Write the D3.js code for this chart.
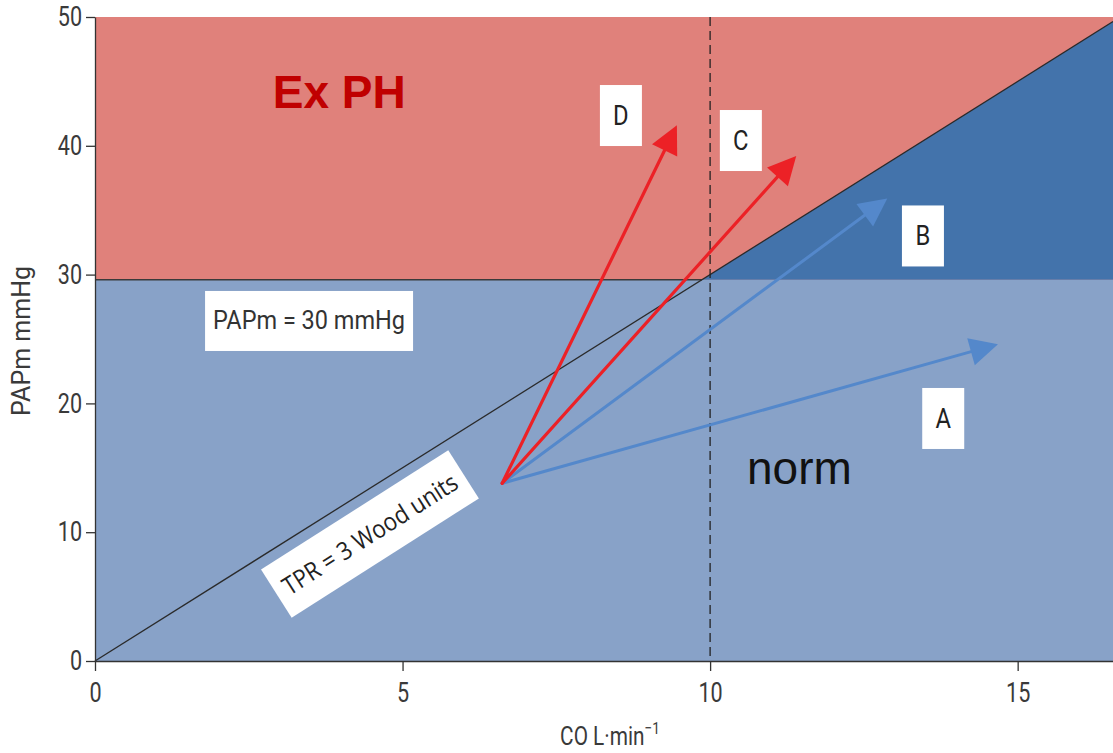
<!DOCTYPE html>
<html>
<head>
<meta charset="utf-8">
<script src="https://cdn.jsdelivr.net/npm/d3@7"></script>
<style>
  html, body { margin: 0; padding: 0; background: #ffffff; }
  svg { display: block; }
</style>
</head>
<body>
<svg id="chart" width="1113" height="753"></svg>
<script>
// ---------------- data ----------------
const xTicks = [0, 5, 10, 15];
const yTicks = [0, 10, 20, 30, 40, 50];
const xMax = 16.55;            // visible CO range (right edge cut)
const yMax = 50;
const thresholdPAPm = 29.6;    // PAPm = 30 mmHg line
const tprSlope = 3;            // TPR = 3 Wood units
const coReference = 10;        // dashed vertical line
const arrowOrigin = [6.62, 13.8];
const arrowNames = ["A", "B", "C", "D"];
const arrowEndCO = [14.68, 12.88, 11.4, 9.46];
const arrowEndPAPm = [24.6, 35.9, 39.2, 41.6];
const arrowGroup = ["norm", "norm", "ph", "ph"];
const labelCO = [13.79, 13.46, 10.5, 8.55];
const labelPAPm = [18.83, 33.0, 40.41, 42.35];
const regionTexts = ["Ex PH", "norm"];
const regionTextCO = [2.89, 10.6];
const regionTextPAPm = [42.93, 13.74];
const thresholdLabel = "PAPm = 30 mmHg";
const thresholdLabelPos = [3.48, 26.4];
const tprLabel = "TPR = 3 Wood units";
const tprLabelPos = [4.47, 9.86];
const xTitle = "CO L·min";
const xTitleSup = "−1";
const yTitle = "PAPm mmHg";

(function () {
// ---------------- layout ----------------
const svg = d3.select("#chart");
const mLeft = 95, mTop = 17, mRight = 1113, mBottom = 661;
const x = d3.scaleLinear().domain([0, xMax]).range([mLeft, mRight]);
const y = d3.scaleLinear().domain([0, yMax]).range([mBottom, mTop]);

const colRed = "#e0817b";
const colLightBlue = "#88a2c8";
const colDarkBlue = "#4373ab";
const colArrowBlue = "#5488cb";
const colArrowRed = "#ec2126";
const axisCol = "#333333";
const tickFont = "Roboto, 'DejaVu Sans', sans-serif";

// regions
svg.append("rect")
  .attr("x", x(0)).attr("y", y(yMax))
  .attr("width", x(xMax) - x(0)).attr("height", y(thresholdPAPm) - y(yMax))
  .attr("fill", colRed);
svg.append("rect")
  .attr("x", x(0)).attr("y", y(thresholdPAPm))
  .attr("width", x(xMax) - x(0)).attr("height", y(0) - y(thresholdPAPm))
  .attr("fill", colLightBlue);

const xCross = thresholdPAPm / tprSlope;
const xTop = Math.min(xMax, yMax / tprSlope);
const tri = [[xCross, thresholdPAPm], [xTop, tprSlope * xTop], [xMax, yMax], [xMax, thresholdPAPm]];
svg.append("path")
  .attr("d", d3.line().x(d => x(d[0])).y(d => y(d[1]))(tri) + "Z")
  .attr("fill", colDarkBlue);

// threshold line (up to the TPR line)
svg.append("line")
  .attr("x1", x(0)).attr("x2", x(xCross))
  .attr("y1", y(thresholdPAPm)).attr("y2", y(thresholdPAPm))
  .attr("stroke", "#3a3a3a").attr("stroke-width", 1.5);

// TPR line
svg.append("line")
  .attr("x1", x(0)).attr("y1", y(0))
  .attr("x2", x(xTop)).attr("y2", y(tprSlope * xTop))
  .attr("stroke", "#2a2a2a").attr("stroke-width", 1.3);

// dashed CO line
svg.append("line")
  .attr("x1", x(coReference)).attr("x2", x(coReference))
  .attr("y1", y(yMax)).attr("y2", y(0))
  .attr("stroke", "#222").attr("stroke-width", 1.3)
  .attr("stroke-dasharray", "9,5");

// arrows
const headLen = 28, headHalf = 14;
arrowNames.forEach((name, i) => {
  const x0 = x(arrowOrigin[0]), y0 = y(arrowOrigin[1]);
  const x1 = x(arrowEndCO[i]), y1 = y(arrowEndPAPm[i]);
  const dx = x1 - x0, dy = y1 - y0, L = Math.hypot(dx, dy);
  const ux = dx / L, uy = dy / L;
  const bx = x1 - ux * headLen, by = y1 - uy * headLen;
  const col = arrowGroup[i] === "ph" ? colArrowRed : colArrowBlue;
  svg.append("line")
    .attr("x1", x0).attr("y1", y0)
    .attr("x2", bx + ux * 2).attr("y2", by + uy * 2)
    .attr("stroke", col).attr("stroke-width", arrowGroup[i] === "ph" ? 3.2 : 3)
    .attr("stroke-linecap", "round");
  svg.append("path")
    .attr("d", `M${x1},${y1}L${bx - uy * headHalf},${by + ux * headHalf}L${bx + uy * headHalf},${by - ux * headHalf}Z`)
    .attr("fill", col);
});

// letter boxes
arrowNames.forEach((name, i) => {
  const cx = x(labelCO[i]), cy = y(labelPAPm[i]);
  svg.append("rect")
    .attr("x", cx - 21).attr("y", cy - 30.5)
    .attr("width", 42).attr("height", 61)
    .attr("fill", "#ffffff");
  svg.append("text")
    .attr("x", cx / 0.88).attr("y", cy + 9.5)
    .attr("text-anchor", "middle")
    .attr("font-family", "Roboto, sans-serif")
    .attr("font-size", 27)
    .attr("fill", "#222")
    .attr("transform", "scale(0.88,1)")
    .text(name);
});

// PAPm label box
{
  const cx = x(thresholdLabelPos[0]), cy = y(thresholdLabelPos[1]);
  svg.append("rect")
    .attr("x", cx - 104).attr("y", cy - 30)
    .attr("width", 208).attr("height", 60)
    .attr("fill", "#ffffff");
  svg.append("text")
    .attr("x", cx).attr("y", cy + 8.5)
    .attr("text-anchor", "middle")
    .attr("font-family", "Roboto, sans-serif")
    .attr("font-size", 25)
    .attr("fill", "#333")
    .attr("transform", `translate(${cx},0) scale(0.94,1) translate(${-cx},0)`)
    .text(thresholdLabel);
}

// TPR label box (rotated)
{
  const cx = x(tprLabelPos[0]), cy = y(tprLabelPos[1]);
  const g = svg.append("g").attr("transform", `translate(${cx},${cy}) rotate(-32.5)`);
  g.append("rect")
    .attr("x", -111).attr("y", -28.5)
    .attr("width", 222).attr("height", 57)
    .attr("fill", "#ffffff");
  g.append("text")
    .attr("x", 0).attr("y", 9)
    .attr("text-anchor", "middle")
    .attr("font-family", "'Open Sans', sans-serif")
    .attr("font-size", 25)
    .attr("fill", "#222")
    .attr("transform", "scale(0.9,1)")
    .text(tprLabel);
}

// region texts
svg.append("text")
  .attr("x", x(regionTextCO[0])).attr("y", y(regionTextPAPm[0]))
  .attr("font-family", "'Liberation Sans', Arial, sans-serif")
  .attr("font-weight", "bold")
  .attr("font-size", 46)
  .attr("fill", "#c00000")
  .text(regionTexts[0]);
svg.append("text")
  .attr("x", x(regionTextCO[1])).attr("y", y(regionTextPAPm[1]))
  .attr("font-family", "'Liberation Sans', Arial, sans-serif")
  .attr("font-size", 46)
  .attr("fill", "#111")
  .text(regionTexts[1]);

// axes
const sx = 0.8;
const yAxis = svg.append("g")
  .attr("transform", `translate(${mLeft},0)`)
  .call(d3.axisLeft(y).tickValues(yTicks).tickSize(9).tickPadding(4).tickSizeOuter(0));
const xAxis = svg.append("g")
  .attr("transform", `translate(0,${mBottom})`)
  .call(d3.axisBottom(x).tickValues(xTicks).tickSize(10).tickPadding(12).tickSizeOuter(0));
[xAxis, yAxis].forEach(a => {
  a.select(".domain").attr("stroke", axisCol).attr("stroke-width", 1.3);
  a.selectAll(".tick line").attr("stroke", axisCol).attr("stroke-width", 1.3);
  a.selectAll(".tick text")
    .attr("font-family", tickFont)
    .attr("font-size", 27)
    .attr("fill", "#3a3a3a");
});
yAxis.selectAll(".tick text")
  .attr("x", -13 / sx)
  .attr("transform", `scale(${sx},1)`);
xAxis.selectAll(".tick text")
  .attr("transform", `scale(${sx},1)`);

// axis titles
const xt = svg.append("text")
  .attr("x", 610 / sx).attr("y", 745)
  .attr("text-anchor", "middle")
  .attr("font-family", tickFont)
  .attr("font-size", 26)
  .attr("fill", "#3a3a3a")
  .attr("transform", `scale(${sx},1)`);
xt.append("tspan").text(xTitle);
xt.append("tspan").attr("dy", -11).attr("font-size", 17).text(xTitleSup);

svg.append("text")
  .attr("transform", `translate(30,341) rotate(-90)`)
  .attr("text-anchor", "middle")
  .attr("font-family", tickFont)
  .attr("font-size", 25)
  .attr("fill", "#3a3a3a")
  .text(yTitle);
})();
</script>
</body>
</html>
